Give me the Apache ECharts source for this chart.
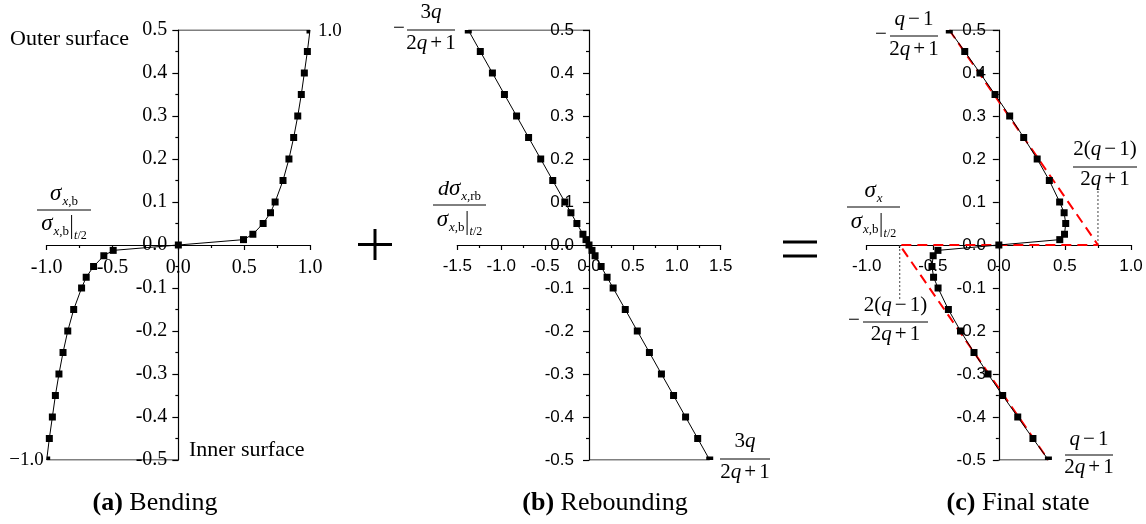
<!DOCTYPE html>
<html>
<head>
<meta charset="utf-8">
<script src="https://cdn.jsdelivr.net/npm/echarts@6/dist/echarts.min.js"></script>
<style>
  html, body { margin: 0; padding: 0; background: #fff; }
  #chart { width: 1146px; height: 524px; }
</style>
</head>
<body>
<div id="chart"></div>
<script>
// Normalised through-thickness position z/t (outer surface = 0.5, inner surface = -0.5)
const depth = [0.5, 0.45, 0.4, 0.35, 0.3, 0.25, 0.2, 0.15, 0.1, 0.075, 0.05, 0.025, 0.0125, 0,
  -0.0125, -0.025, -0.05, -0.075, -0.1, -0.15, -0.2, -0.25, -0.3, -0.35, -0.4, -0.45, -0.5];

// (a) bending stress, normalised by the surface value
const bending = [1.0, 0.98, 0.957, 0.934, 0.907, 0.876, 0.84, 0.795, 0.735, 0.70, 0.644, 0.566, 0.495, 0,
  -0.495, -0.566, -0.644, -0.70, -0.735, -0.795, -0.84, -0.876, -0.907, -0.934, -0.957, -0.98, -1.0];

// (b) elastic rebound stress
const rebound = [-1.375, -1.238, -1.1, -0.963, -0.825, -0.688, -0.55, -0.413, -0.275, -0.206, -0.138, -0.069, -0.034, 0,
  0.034, 0.069, 0.138, 0.206, 0.275, 0.413, 0.55, 0.688, 0.825, 0.963, 1.1, 1.238, 1.375];

// (c) residual stress after springback
const finalState = [-0.375, -0.258, -0.143, -0.029, 0.082, 0.188, 0.29, 0.382, 0.46, 0.494, 0.506, 0.497, 0.461, 0,
  -0.461, -0.497, -0.506, -0.494, -0.46, -0.382, -0.29, -0.188, -0.082, 0.029, 0.143, 0.258, 0.375];

// (c) idealised residual-stress envelope (dashed) and its leader lines
const envelopeX = [-0.375, 0.75, -0.75, 0.375];
const envelopeY = [0.5, 0, 0, -0.5];
const leaderX = [0.75, -0.75];
const leaderTop = [0.13, -0.13];

// axis ranges and tick steps
const xRanges = [[-1, 1], [-1.5, 1.5], [-1, 1]];
const xStep = 0.5;
const yRange = [-0.5, 0.5];
const yStep = 0.1;

const SERIF = '"Liberation Serif", "Times New Roman", serif';
const SANS = '"Liberation Sans", Arial, sans-serif';

const grids = [
  { left: 46.7, top: 30, width: 263.3, height: 430 },
  { left: 457.3, top: 30, width: 263.4, height: 430 },
  { left: 866.7, top: 30, width: 264.3, height: 430 }
];

const chart = echarts.init(document.getElementById('chart'), null, { renderer: 'canvas' });

const fmt = v => (Math.abs(v) < 1e-9 ? 0 : v).toFixed(1);

// Axes cross at the origin: each axis is shifted from the grid edge to the other axis' zero.
function xAxisFor(gi, family, size) {
  const [y0, y1] = yRange;
  const shift = (0 - y0) / (y1 - y0) * grids[gi].height;
  return {
    type: 'value', gridIndex: gi, min: xRanges[gi][0], max: xRanges[gi][1], interval: xStep,
    position: 'bottom', offset: -shift,
    axisLine: { onZero: false, lineStyle: { color: '#000', width: 1.2 } },
    axisTick: { show: true, length: 5, lineStyle: { color: '#000', width: 1.2 } },
    minorTick: { show: true, splitNumber: 2, length: 3, lineStyle: { color: '#000', width: 1.2 } },
    splitLine: { show: false }, minorSplitLine: { show: false },
    axisLabel: { color: '#000', fontFamily: family, fontSize: size, margin: 13, formatter: fmt }
  };
}
function yAxisFor(gi, family, size, margin) {
  const [x0, x1] = xRanges[gi];
  const shift = (0 - x0) / (x1 - x0) * grids[gi].width;
  return {
    type: 'value', gridIndex: gi, min: yRange[0], max: yRange[1], interval: yStep,
    position: 'left', offset: -shift,
    axisLine: { onZero: false, lineStyle: { color: '#000', width: 1.2 } },
    axisTick: { show: true, length: 6, lineStyle: { color: '#000', width: 1.2 } },
    minorTick: { show: true, splitNumber: 2, length: 3, lineStyle: { color: '#000', width: 1.2 } },
    splitLine: { show: false }, minorSplitLine: { show: false },
    axisLabel: { color: '#000', fontFamily: family, fontSize: size, margin, formatter: fmt }
  };
}

// Square markers; the end points sit on the plot edge and are cut by it.
function profileData(xs, gi) {
  const xMax = xRanges[gi][1];
  return depth.map((y, i) => {
    const x = xs[i];
    const item = { value: [x, y] };
    if (Math.abs(y) >= yRange[1]) {
      const dy = y > 0 ? 1.75 : -1.75;
      if (Math.abs(x) >= xMax) {
        item.symbolSize = [3.5, 3.5];
        item.symbolOffset = [x > 0 ? -1.75 : 1.75, dy];
      } else {
        item.symbolSize = [7, 3.5];
        item.symbolOffset = [0, dy];
      }
    }
    return item;
  });
}
function profileSeries(name, xs, gi) {
  return {
    name, type: 'line', xAxisIndex: gi, yAxisIndex: gi, data: profileData(xs, gi),
    symbol: 'rect', symbolSize: 7, showAllSymbol: true,
    lineStyle: { color: '#000', width: 1 }, itemStyle: { color: '#000' },
    z: 5, silent: true, animation: false
  };
}
// Surface lines joining the axis to the outer/inner end values
function surfaceSeries(xs, gi) {
  const n = depth.length - 1;
  const mk = (pts) => ({
    type: 'line', xAxisIndex: gi, yAxisIndex: gi, data: pts, symbol: 'none',
    lineStyle: { color: '#000', width: 1 }, z: 4, silent: true, animation: false
  });
  return [mk([[0, depth[0]], [xs[0], depth[0]]]), mk([[0, depth[n]], [xs[n], depth[n]]])];
}

const series = [
  profileSeries('Bending', bending, 0),
  ...surfaceSeries(bending, 0),
  profileSeries('Rebounding', rebound, 1),
  ...surfaceSeries(rebound, 1),
  {
    name: 'Envelope', type: 'line', xAxisIndex: 2, yAxisIndex: 2,
    data: envelopeX.map((x, i) => [x, envelopeY[i]]), symbol: 'none',
    lineStyle: { color: '#ff0000', width: 2, type: [10, 6] }, z: 3, silent: true, animation: false
  },
  ...leaderX.map((x, i) => ({
    type: 'line', xAxisIndex: 2, yAxisIndex: 2, data: [[x, 0], [x, leaderTop[i]]], symbol: 'none',
    lineStyle: { color: '#444', width: 1, type: [2, 2] }, z: 2, silent: true, animation: false
  })),
  profileSeries('Final state', finalState, 2),
  ...surfaceSeries(finalState, 2)
];

// ---------- math-style annotations ----------
const mctx = document.createElement('canvas').getContext('2d');
function fontOf(it) {
  return (it.italic ? 'italic ' : '') + (it.bold ? 'bold ' : '') + it.size + 'px ' + (it.family || SERIF);
}
function itemWidth(it) {
  if (it.bar) return it.w;
  mctx.font = fontOf(it);
  return mctx.measureText(it.t).width + (it.pre || 0) + (it.gap || 0);
}
function runWidth(items) { return items.reduce((s, it) => s + itemWidth(it), 0); }
function placeRun(items, x, base, out) {
  items.forEach(it => {
    const w = itemWidth(it);
    if (it.bar) {
      out.push({ type: 'line', shape: { x1: x + w / 2, y1: base + it.top, x2: x + w / 2, y2: base + it.bottom },
        style: { stroke: '#000', lineWidth: 1 } });
    } else {
      out.push({
        type: 'text', x: x + (it.pre || 0), y: base + (it.dy || 0) - 0.34 * it.size,
        style: {
          text: it.t, fontSize: it.size, fontFamily: it.family || SERIF,
          fontStyle: it.italic ? 'italic' : 'normal', fontWeight: it.bold ? 'bold' : 'normal',
          fill: '#000', align: 'left', verticalAlign: 'middle'
        }
      });
    }
    x += w;
  });
}
function centerRun(items, cx, base, out) { placeRun(items, cx - runWidth(items) / 2, base, out); }
function frac(cx, barY, barW, num, den, up, down, out) {
  centerRun(num, cx, barY - up, out);
  centerRun(den, cx, barY + down, out);
  out.push({ type: 'line', shape: { x1: cx - barW / 2, y1: barY, x2: cx + barW / 2, y2: barY },
    style: { stroke: '#000', lineWidth: 1 } });
}
const T = (t, size, o) => Object.assign({ t, size }, o || {});
const F = 21;   // formula font size
const sigma = () => T('σ', 23, { italic: true, gap: 1 });
const sub = (a, b) => [T(a, 13, { italic: true, dy: 4 }), T(b, 13, { dy: 4 })];
const refDen = () => [sigma(), ...sub('x', ',b'), { bar: true, w: 5, top: -17, bottom: 7 },
  T('t', 12, { italic: true, dy: 8 }), T('/2', 12, { dy: 8 })];
const q = () => T('q', F, { italic: true });
const twoQ1 = () => [T('2', F), q(), T('+', F, { pre: 3, gap: 3 }), T('1', F)];
const qm1 = () => [q(), T('−', F, { pre: 3, gap: 3 }), T('1', F)];
const twoQm1 = () => [T('2', F), T('(', F), ...qm1(), T(')', F)];
const minus = (x, barY, out) => placeRun([T('−', F)], x, barY + 6, out);

const g = [];
// panel (a)
placeRun([T('Outer surface', 22)], 10, 47, g);
placeRun([T('Inner surface', 22)], 189, 458, g);
frac(64, 210, 54, [sigma(), ...sub('x', ',b')], refDen(), 8, 22, g);
centerRun([T('(a)', 26, { bold: true }), T(' Bending', 26)], 155, 512, g);
// panel (b)
minus(393, 30, g);
frac(431, 30, 48, [T('3', F), q()], twoQ1(), 10, 21, g);
frac(459.5, 205, 53, [T('d', 22, { italic: true }), sigma(), ...sub('x', ',rb')], refDen(), 8, 23, g);
frac(745, 459, 50, [T('3', F), q()], twoQ1(), 10, 21, g);
centerRun([T('(b)', 26, { bold: true }), T(' Rebounding', 26)], 605, 512, g);
// panel (c)
minus(875, 36, g);
frac(914, 36, 48, qm1(), twoQ1(), 9, 21, g);
frac(1105, 167, 64, twoQm1(), twoQ1(), 10, 20, g);
frac(873.5, 207, 53, [sigma(), T('x', 13, { italic: true, dy: 4 })], refDen(), 8, 23, g);
minus(848, 322, g);
frac(895.5, 322, 65, twoQm1(), twoQ1(), 9, 20, g);
frac(1089, 455, 48, qm1(), twoQ1(), 8, 20, g);
centerRun([T('(c)', 26, { bold: true }), T(' Final state', 26)], 1018, 512, g);
// operators between the panels
const op = (x1, y1, x2, y2) => g.push({ type: 'line', shape: { x1, y1, x2, y2 }, style: { stroke: '#000', lineWidth: 3 } });
op(358, 244.5, 392, 244.5); op(375, 229, 375, 260);
op(783, 242, 817, 242); op(783, 256, 817, 256);

const option = {
  backgroundColor: '#fff',
  animation: false,
  grid: grids,
  xAxis: [xAxisFor(0, SERIF, 20), xAxisFor(1, SANS, 17), xAxisFor(2, SANS, 17)],
  yAxis: [yAxisFor(0, SERIF, 20, 11), yAxisFor(1, SANS, 17, 15), yAxisFor(2, SANS, 17, 13)],
  series,
  graphic: { elements: g }
};
chart.setOption(option);

// value labels at the two surface points of the bending profile
const n = depth.length - 1;
const pTop = chart.convertToPixel({ gridIndex: 0 }, [bending[0], depth[0]]);
const pBot = chart.convertToPixel({ gridIndex: 0 }, [bending[n], depth[n]]);
const signed = v => (v < 0 ? '−' : '') + Math.abs(v).toFixed(1);
const extra = [];
placeRun([T(signed(bending[0]), 19)], pTop[0] + 8, pTop[1] + 7, extra);
const lbl = [T(signed(bending[n]), 19)];
placeRun(lbl, pBot[0] - 3 - runWidth(lbl), pBot[1] + 6, extra);
chart.setOption({ graphic: { elements: g.concat(extra) } }, { replaceMerge: ['graphic'] });
</script>
</body>
</html>
